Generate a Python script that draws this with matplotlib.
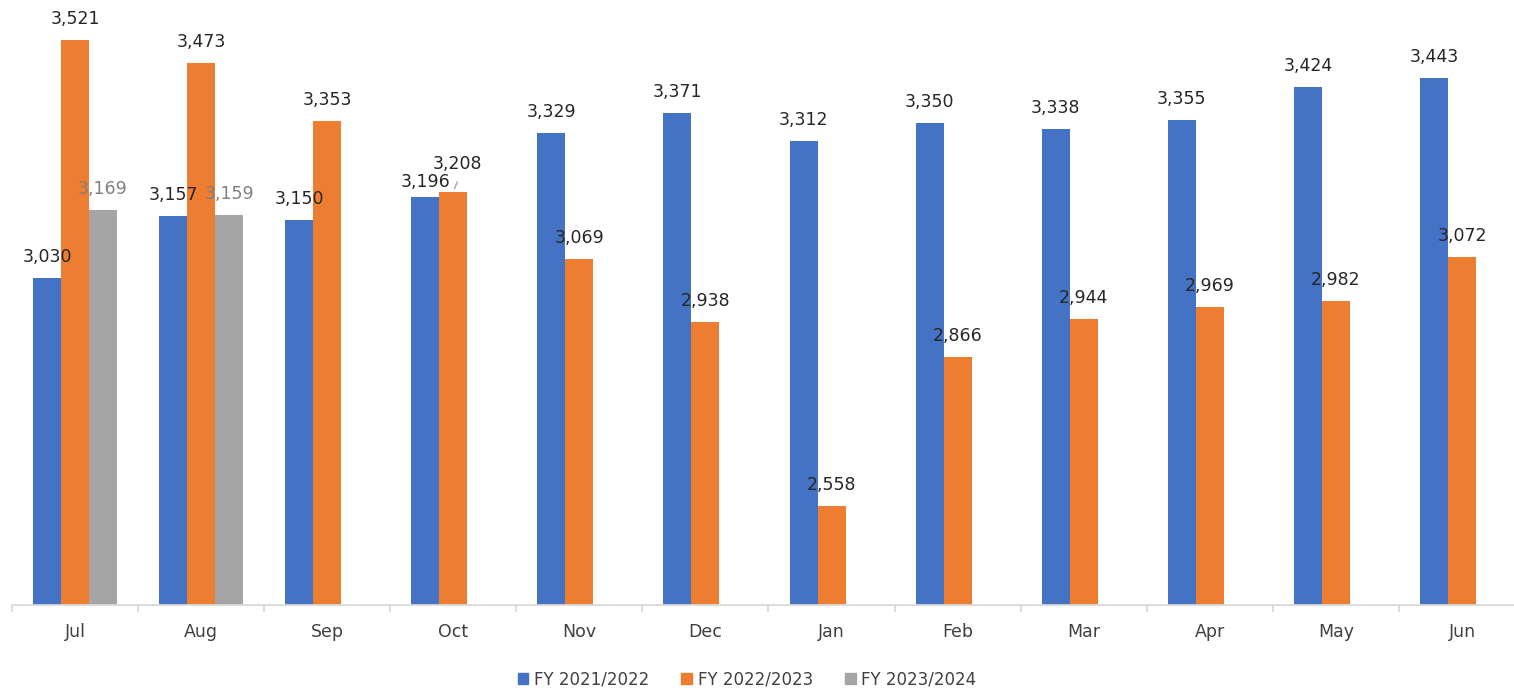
import numpy as np
import matplotlib
matplotlib.use("Agg")
import matplotlib.pyplot as plt
from matplotlib.patches import Patch

months = ["Jul", "Aug", "Sep", "Oct", "Nov", "Dec", "Jan", "Feb", "Mar", "Apr", "May", "Jun"]
fy2122 = [3030, 3157, 3150, 3196, 3329, 3371, 3312, 3350, 3338, 3355, 3424, 3443]
fy2223 = [3521, 3473, 3353, 3208, 3069, 2938, 2558, 2866, 2944, 2969, 2982, 3072]
fy2324 = [3169, 3159, np.nan, np.nan, np.nan, np.nan, np.nan, np.nan, np.nan, np.nan, np.nan, np.nan]
series_names = ["FY 2021/2022", "FY 2022/2023", "FY 2023/2024"]

colors = ["#4472C4", "#ED7D31", "#A5A5A5"]
label_colors = ["#262626", "#262626", "#7f7f7f"]

plt.rcParams["font.family"] = "DejaVu Sans"

fig = plt.figure(figsize=(15.14, 6.91), dpi=100)
ax = fig.add_axes([12 / 1514, 1 - 605 / 691, 1513 / 1514, 605 / 691])

x = np.arange(len(months))
w = 0.222
# per-label nudges in pixels (dx, dy), only where the original moved them
nudge = {(0, 3): (0, -6), (1, 3): (4, 7)}

for i, (vals, c, lc) in enumerate(zip([fy2122, fy2223, fy2324], colors, label_colors)):
    xs = x + (i - 1) * w
    ax.bar(xs, vals, width=w, color=c, zorder=2)
    for j, (xx, v) in enumerate(zip(xs, vals)):
        if np.isnan(v):
            continue
        dx, dy = nudge.get((i, j), (0, 0))
        ax.annotate(f"{int(v):,}", xy=(xx, v), xytext=(dx, 16 + dy),
                    textcoords="offset pixels", ha="center", va="baseline",
                    fontsize=12.5, color=lc, zorder=5)
        if (i, j) == (1, 3):
            ax.annotate("", xy=(xx, v), xytext=(xx + 0.04, v + 25),
                        arrowprops=dict(arrowstyle="-", color="#a6a6a6", lw=1))

ax.set_xlim(-0.5, len(months) - 0.5)
ax.set_ylim(2353, 3604)

for s in ["top", "right", "left"]:
    ax.spines[s].set_visible(False)
ax.spines["bottom"].set_color("#d9d9d9")
ax.spines["bottom"].set_linewidth(1.3)
ax.set_yticks([])

ax.set_xticks(x)
ax.set_xticklabels(months, fontsize=12.5, color="#404040")
ax.tick_params(axis="x", which="major", length=0, pad=13)
ax.set_xticks(np.arange(-0.5, len(months), 1), minor=True)
ax.tick_params(axis="x", which="minor", length=5, color="#d9d9d9", width=1.3)

handles = [Patch(color=c, label=n) for c, n in zip(colors, series_names)]
fig.legend(handles=handles, loc="center", bbox_to_anchor=(747 / 1514, 1 - 679 / 691),
           ncol=3, frameon=False, fontsize=12, handlelength=0.65, handleheight=0.65,
           handletextpad=0.35, columnspacing=1.9, labelcolor="#404040")

fig.savefig("out.png", dpi=100)
